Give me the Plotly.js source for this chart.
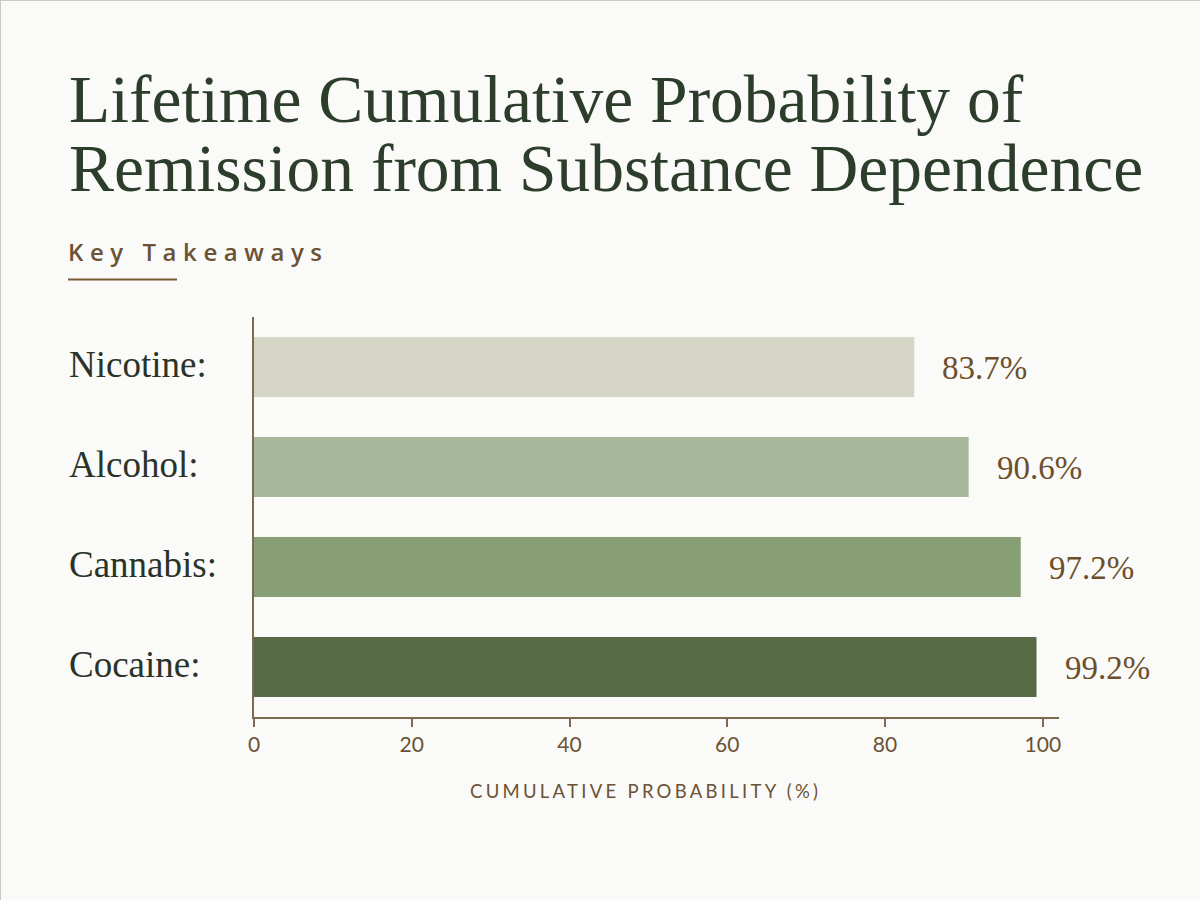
<!DOCTYPE html>
<html>
<head>
<meta charset="utf-8">
<script src="https://cdn.plot.ly/plotly-3.0.1.min.js"></script>
<style>
  html, body { margin: 0; padding: 0; background: #fafaf8; }
  #chart { width: 1200px; height: 900px; box-sizing: border-box; border: 1px solid #c9c9c7; }
</style>
</head>
<body>
<div id="chart"></div>
<script>
// ---- data ----
const substances = ["Nicotine", "Alcohol", "Cannabis", "Cocaine"];
const remissionPct = [83.7, 90.6, 97.2, 99.2];
const xTicks = [0, 20, 40, 60, 80, 100];
const titleLines = ["Lifetime Cumulative Probability of", "Remission from Substance Dependence"];
const subtitle = "Key Takeaways";
const xAxisTitle = "CUMULATIVE PROBABILITY (%)";

// ---- style ----
const barColors = ["#d5d6c5", "#a8b89b", "#889e74", "#566a46"];
const brown = "#6b5234";
const axisBrown = "#7d6a50";
const titleGreen = "#2c3d2b";

// plot area in pixels
const L = 253, R = 1058, T = 316, B = 716;
const px = x => (x - L) / (R - L);
const py = y => (B - y) / (B - T);

const trace = {
  type: "bar",
  orientation: "h",
  x: remissionPct,
  y: substances,
  marker: { color: barColors, line: { width: 0 } },
  width: 0.6,
  hoverinfo: "skip"
};

const annotations = [];
annotations.push({
  text: titleLines.join("<br>"), xref: "paper", yref: "paper",
  x: px(66), y: py(59), xanchor: "left", yanchor: "top", align: "left",
  showarrow: false,
  font: { family: "Liberation Serif, serif", size: 67.5, color: titleGreen }
});
annotations.push({
  text: subtitle, xref: "paper", yref: "paper",
  x: px(66), y: py(251), xanchor: "left", yanchor: "middle", showarrow: false,
  font: { family: "Open Sans, sans-serif", size: 24, weight: 600, color: brown }
});
substances.forEach((s, i) => {
  annotations.push({
    text: s + ":", xref: "paper", yref: "y",
    x: px(66), y: s, xanchor: "left", yanchor: "middle", showarrow: false, yshift: 3,
    font: { family: "Liberation Serif, serif", size: 37, color: "#2a3328" }
  });
  annotations.push({
    text: remissionPct[i].toFixed(1) + "%", xref: "x", yref: "y",
    x: remissionPct[i], y: s, xanchor: "left", yanchor: "middle", showarrow: false,
    xshift: 26, yshift: -1,
    font: { family: "Liberation Serif, serif", size: 33, color: "#6e4f2c" }
  });
});

const layout = {
  width: 1200, height: 900,
  margin: { l: L, r: 1200 - R, t: T, b: 900 - B, pad: 0 },
  paper_bgcolor: "#fafaf8",
  plot_bgcolor: "rgba(0,0,0,0)",
  showlegend: false,
  bargap: 0.4,
  xaxis: {
    range: [0, 102.05],
    tickvals: xTicks,
    ticktext: xTicks.map(String),
    ticks: "outside", ticklen: 8, tickwidth: 2, tickcolor: axisBrown,
    showline: true, linecolor: axisBrown, linewidth: 2,
    showgrid: false, zeroline: false,
    tickfont: { family: "Lato, Open Sans, sans-serif", size: 21, color: brown },
    title: { text: xAxisTitle, standoff: 30,
             font: { family: "Lato, Open Sans, sans-serif", size: 18.5, color: brown } },
    fixedrange: true
  },
  yaxis: {
    autorange: "reversed",
    showticklabels: false, ticks: "",
    showline: true, linecolor: axisBrown, linewidth: 2,
    showgrid: false, zeroline: false,
    fixedrange: true
  },
  annotations: annotations,
  shapes: [{
    type: "line", xref: "paper", yref: "paper",
    x0: px(67), x1: px(176), y0: py(278.5), y1: py(278.5),
    line: { color: "#7a5a34", width: 2 }
  }]
};

function spread(el, left, right) {
  el.style.letterSpacing = "0px";
  const n = el.textContent.length;
  const w = el.getComputedTextLength();
  const sp = (right - left - w) / (n - 1);
  el.style.letterSpacing = sp + "px";
  el.setAttribute("text-anchor", "start");
  const r = el.getBoundingClientRect();
  const dx = left - r.left;
  const nodes = [el].concat(Array.from(el.querySelectorAll("[x]")));
  nodes.forEach(nd => {
    if (nd.hasAttribute("x")) nd.setAttribute("x", parseFloat(nd.getAttribute("x")) + dx);
  });
}

Plotly.newPlot("chart", [trace], layout, { displayModeBar: false, staticPlot: true }).then(gd => {
  // tighten the title's line spacing (display type sets lines close together)
  const title = gd.querySelector('g.annotation[data-index="0"] text.annotation-text');
  if (title) {
    const lines = title.querySelectorAll("tspan.line");
    for (let i = 1; i < lines.length; i++) lines[i].setAttribute("dy", "69");
  }
  const ann = gd.querySelector('g.annotation[data-index="1"] text.annotation-text');
  if (ann) spread(ann, 68, 322);
  const xt = gd.querySelector("text.xtitle");
  if (xt) spread(xt, 470, 818);
});
</script>
</body>
</html>
